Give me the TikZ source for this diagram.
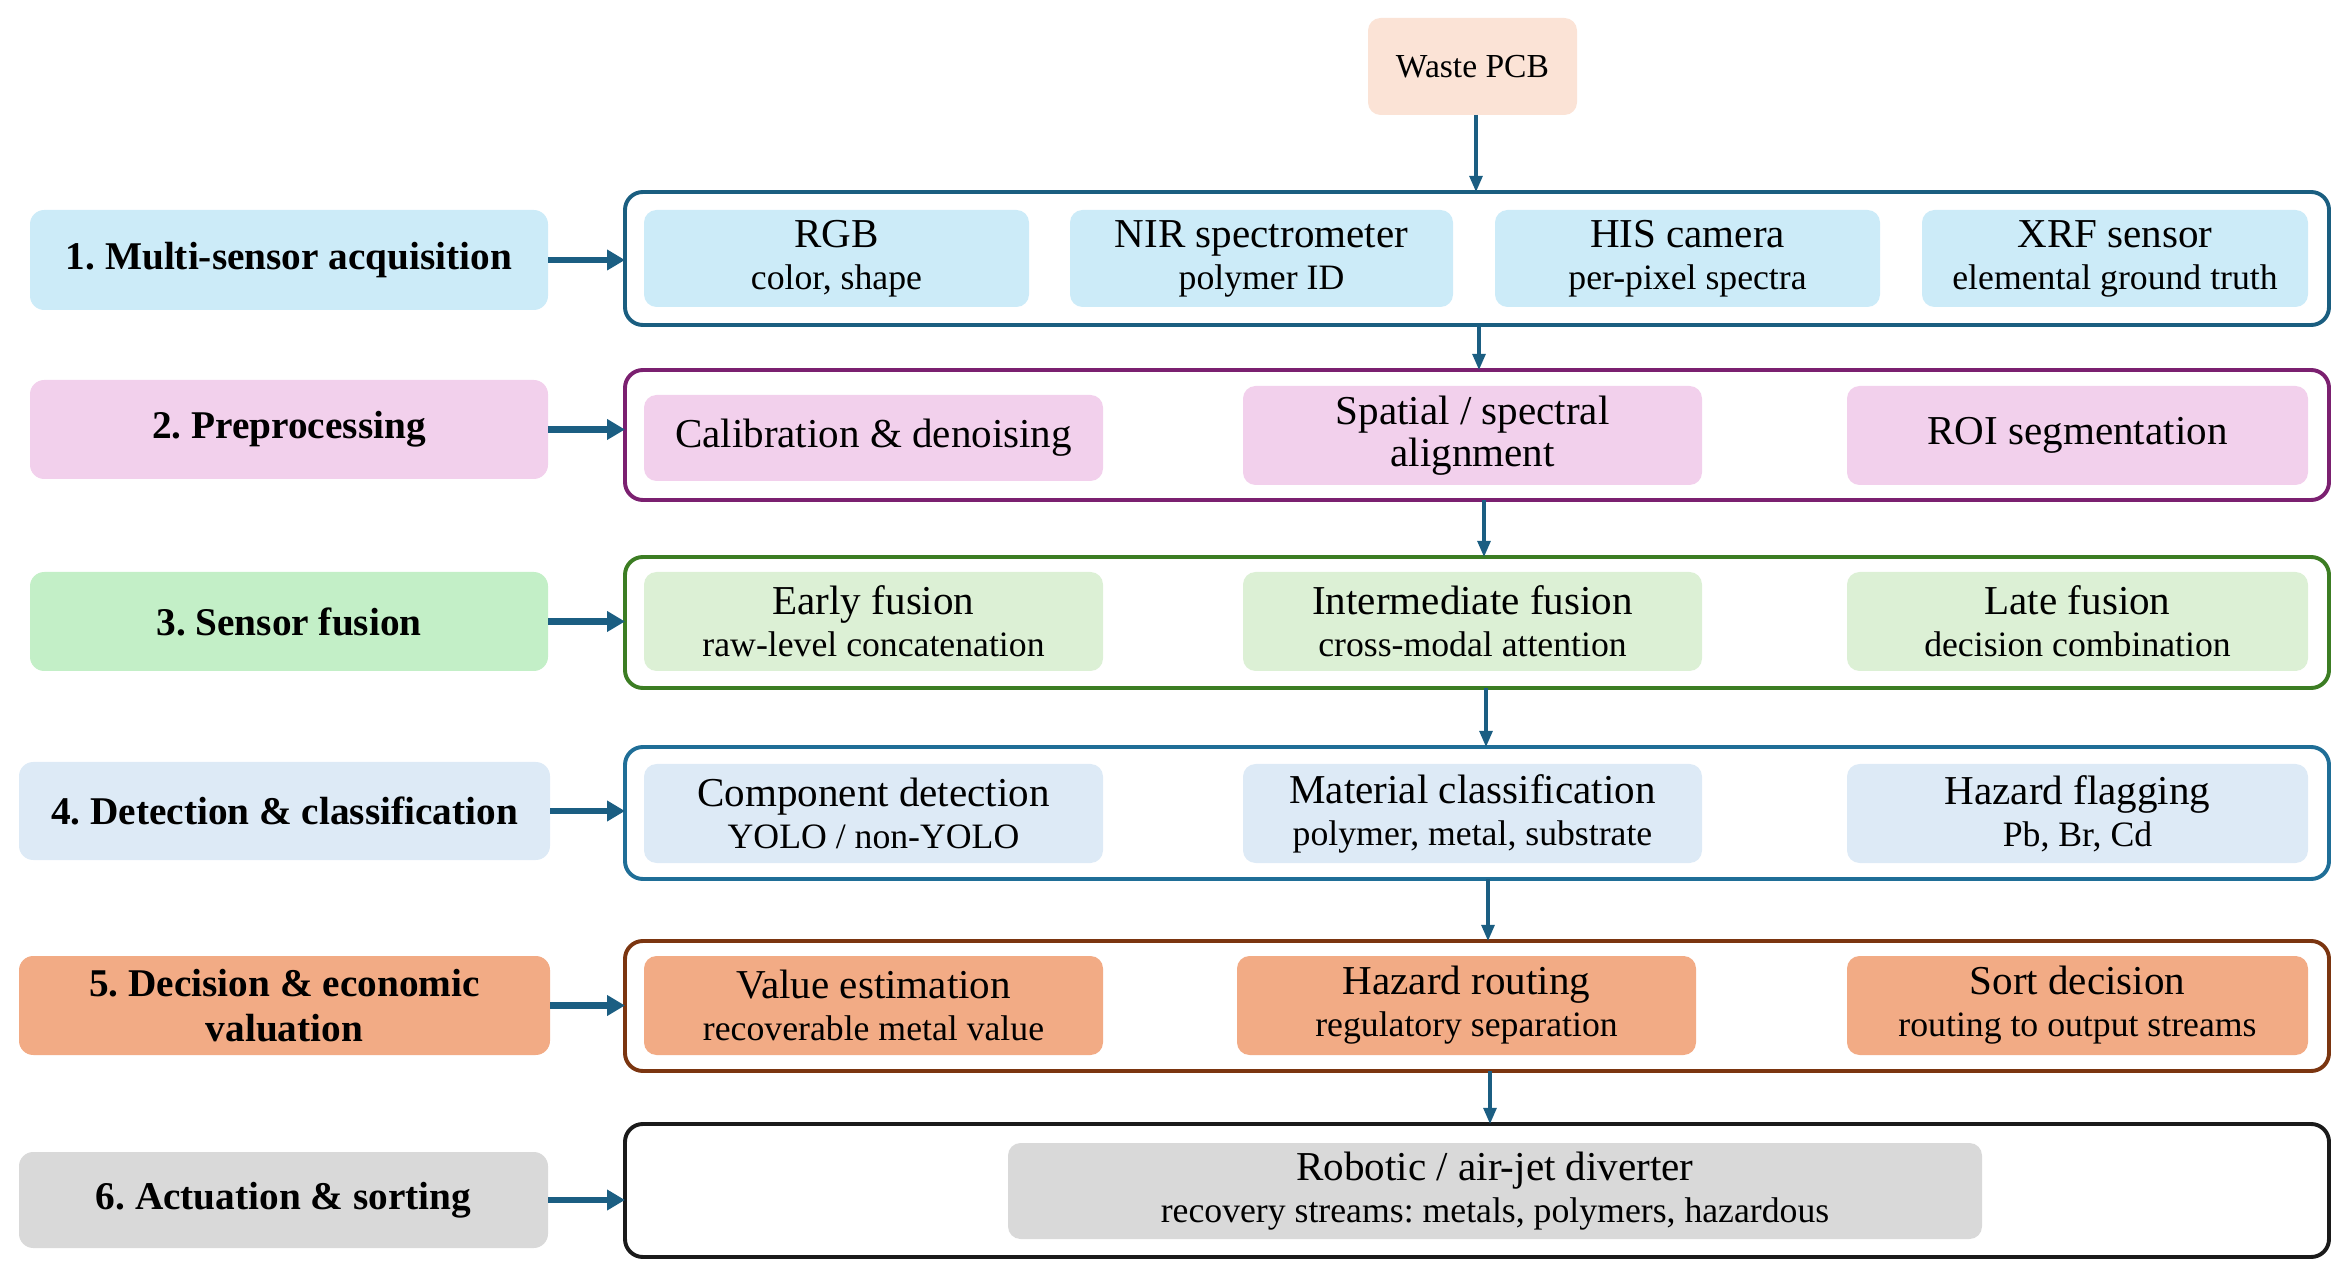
\documentclass[tikz,border=0pt]{standalone}
\usepackage{fontspec}
\setmainfont{Liberation Serif}
\usetikzlibrary{arrows.meta}
\frenchspacing
\definecolor{aC}{HTML}{1B5E82}
\definecolor{fA}{HTML}{CCEBF8}\definecolor{bA}{HTML}{1A5E80}
\definecolor{fB}{HTML}{F2D0EC}\definecolor{bB}{HTML}{7B2070}
\definecolor{fCl}{HTML}{C3EFC7}\definecolor{fC}{HTML}{DCF0D5}\definecolor{bC}{HTML}{3C7D23}
\definecolor{fD}{HTML}{DDEAF6}\definecolor{bD}{HTML}{1F6E97}
\definecolor{fE}{HTML}{F2AB85}\definecolor{bE}{HTML}{7B3510}
\definecolor{fF}{HTML}{D9D9D9}\definecolor{bF}{HTML}{1A1A1A}
\definecolor{fW}{HTML}{FBE3D6}
\newcommand{\subf}{\fontsize{10}{11.8}\selectfont}
% \bxnode[style]{name}{x1}{y1}{x2}{y2}{text}
\newcommand{\bxnode}[7][]{\node[#1, minimum width={(#5-#3)*0.28pt}, minimum height={(#6-#4)*0.28pt}] (#2) at ({(#3+#5)/2},{(#4+#6)/2}) {#7};}
\tikzset{
  lab/.style={rounded corners=4pt, inner sep=0pt, outer sep=0pt, align=center, font=\fontsize{11}{12.6}\selectfont\bfseries},
  inbox/.style={rounded corners=3.5pt, inner sep=0pt, outer sep=0pt, align=center, font=\fontsize{11.5}{11.8}\selectfont},
  grp/.style={draw, line width=1.1pt, rounded corners=5pt, inner sep=0pt, outer sep=0pt},
  harr/.style={-{Triangle[length=5pt,width=5.5pt]}, line width=1.9pt, draw=aC},
  varr/.style={-{Triangle[length=4.5pt,width=3.6pt]}, line width=0.9pt, draw=aC},
}
\begin{document}
\begin{tikzpicture}[x=0.28pt,y=-0.28pt]
\useasboundingbox (0,0) rectangle (2349,1277);
% top input
\bxnode[inbox, fill=fW, font=\fontsize{9.4}{11}\selectfont]{w}{1368}{18}{1577}{115}{Waste PCB}
% row 1
\bxnode[lab, fill=fA]{l1}{30}{210}{548}{310}{1. Multi-sensor acquisition}
\bxnode[grp, draw=bA]{g1}{625}{192}{2329}{325}{}
\bxnode[inbox, fill=fA]{a1}{644}{210}{1029}{307}{RGB\\{\subf color, shape}}
\bxnode[inbox, fill=fA]{a2}{1070}{210}{1453}{307}{NIR spectrometer\\{\subf polymer ID}}
\bxnode[inbox, fill=fA]{a3}{1495}{210}{1880}{307}{HIS camera\\{\subf per-pixel spectra}}
\bxnode[inbox, fill=fA]{a4}{1922}{210}{2308}{307}{XRF sensor\\{\subf elemental ground truth}}
% row 2
\bxnode[lab, fill=fB]{l2}{30}{380}{548}{479}{2. Preprocessing}
\bxnode[grp, draw=bB]{g2}{625}{370}{2329}{500}{}
\bxnode[inbox, fill=fB]{b1}{644}{395}{1103}{481}{Calibration \& denoising}
\bxnode[inbox, fill=fB]{b2}{1243}{386}{1702}{485}{Spatial / spectral\\alignment}
\bxnode[inbox, fill=fB]{b3}{1847}{386}{2308}{485}{ROI segmentation}
% row 3
\bxnode[lab, fill=fCl]{l3}{30}{572}{548}{671}{3. Sensor fusion}
\bxnode[grp, draw=bC]{g3}{625}{557}{2329}{688}{}
\bxnode[inbox, fill=fC]{c1}{644}{572}{1103}{671}{Early fusion\\{\subf raw-level concatenation}}
\bxnode[inbox, fill=fC]{c2}{1243}{572}{1702}{671}{Intermediate fusion\\{\subf cross-modal attention}}
\bxnode[inbox, fill=fC]{c3}{1847}{572}{2308}{671}{Late fusion\\{\subf decision combination}}
% row 4
\bxnode[lab, fill=fD]{l4}{19}{762}{550}{860}{4. Detection \& classification}
\bxnode[grp, draw=bD]{g4}{625}{747}{2329}{879}{}
\bxnode[inbox, fill=fD]{d1}{644}{764}{1103}{863}{Component detection\\{\subf YOLO / non-YOLO}}
\bxnode[inbox, fill=fD]{d2}{1243}{764}{1702}{863}{Material classification\\{\subf polymer, metal, substrate}}
\bxnode[inbox, fill=fD]{d3}{1847}{764}{2308}{863}{Hazard flagging\\{\subf Pb, Br, Cd}}
% row 5
\bxnode[lab, fill=fE]{l5}{19}{956}{550}{1055}{5. Decision \& economic\\valuation}
\bxnode[grp, draw=bE]{g5}{625}{941}{2329}{1071}{}
\bxnode[inbox, fill=fE]{e1}{644}{956}{1103}{1055}{Value estimation\\{\subf recoverable metal value}}
\bxnode[inbox, fill=fE]{e2}{1237}{956}{1696}{1055}{Hazard routing\\{\subf regulatory separation}}
\bxnode[inbox, fill=fE]{e3}{1847}{956}{2308}{1055}{Sort decision\\{\subf routing to output streams}}
% row 6
\bxnode[lab, fill=fF]{l6}{19}{1152}{548}{1248}{6. Actuation \& sorting}
\bxnode[grp, draw=bF]{g6}{625}{1124}{2329}{1257}{}
\bxnode[inbox, fill=fF]{f1}{1008}{1143}{1982}{1239}{Robotic / air-jet diverter\\{\subf recovery streams: metals, polymers, hazardous}}
% horizontal arrows
\foreach \i in {1,...,6} \draw[harr] (l\i.east) -- (l\i.east -| g\i.west);
% vertical arrows
\coordinate (x0) at (1476,0);
\coordinate (x1) at (1479,0);
\coordinate (x2) at (1484,0);
\coordinate (x3) at (1486,0);
\coordinate (x4) at (1488,0);
\coordinate (x5) at (1490,0);
\draw[varr] (w.south -| x0) -- (g1.north -| x0);
\draw[varr] (g1.south -| x1) -- (g2.north -| x1);
\draw[varr] (g2.south -| x2) -- (g3.north -| x2);
\draw[varr] (g3.south -| x3) -- (g4.north -| x3);
\draw[varr] (g4.south -| x4) -- (g5.north -| x4);
\draw[varr] (g5.south -| x5) -- (g6.north -| x5);
\end{tikzpicture}
\end{document}
